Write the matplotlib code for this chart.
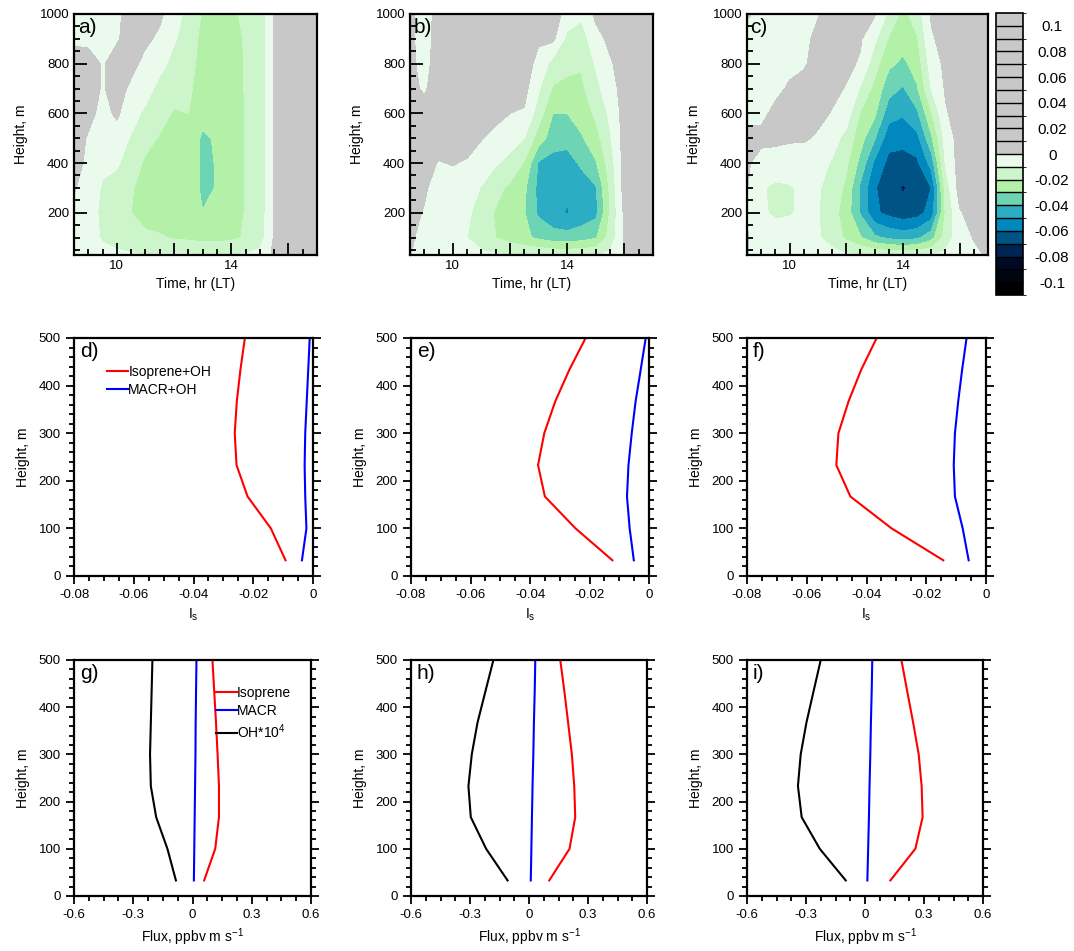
import numpy as np
import matplotlib
matplotlib.use('Agg')
import matplotlib.pyplot as plt
from matplotlib.colors import ListedColormap, BoundaryNorm
from matplotlib.ticker import MultipleLocator, FixedLocator, FixedFormatter

plt.rcParams['font.family'] = ['Liberation Sans', 'DejaVu Sans']
plt.rcParams['mathtext.fontset'] = 'custom'
plt.rcParams['mathtext.rm'] = 'Liberation Sans'
plt.rcParams['mathtext.it'] = 'Liberation Sans:italic'

# ---- contour panels a-c : values in units of 0.01, rows from 1000 m down ----
time_hr = [8.5, 9.0, 9.5, 10.0, 10.5, 11.0, 11.5, 12.0, 12.5, 13.0, 13.5, 14.0, 14.5, 15.0, 15.5, 16.0, 16.5, 17.0]
height_2d = [1000, 900, 800, 700, 600, 500, 400, 300, 200, 100, 30]

is_a = [
    [-0.5, -0.5, -0.4, -0.2, 0.4, 0.4, 0.2, -0.6, -1.3, -2.1, -2.1, -2.1, -1.9, -1.6, 0.05, 0.5, 0.5, 0.5],
    [-0.2, -0.3, -0.3, -0.1, 0.4, 0.2, -0.2, -0.9, -1.4, -2.3, -2.3, -2.2, -1.95, -1.6, 0.05, 0.5, 0.5, 0.5],
    [0.5, 0.5, -0.1, 0.4, 0.3, -0.3, -0.7, -1.3, -1.6, -2.4, -2.4, -2.3, -1.95, -1.6, 0.05, 0.5, 0.5, 0.5],
    [0.5, 0.5, -0.1, 0.4, -0.2, -0.6, -1.3, -1.6, -1.8, -2.5, -2.5, -2.4, -1.95, -1.6, 0.05, 0.5, 0.5, 0.5],
    [0.5, 0.3, -0.3, 0.15, -0.6, -1.2, -1.6, -2.1, -2.0, -2.7, -2.6, -2.5, -1.95, -1.6, 0.05, 0.5, 0.5, 0.5],
    [0.5, -0.1, -0.6, -0.4, -1.1, -1.6, -2.1, -2.4, -2.4, -3.15, -2.9, -2.6, -1.95, -1.6, 0.05, 0.5, 0.5, 0.5],
    [0.5, -0.3, -0.8, -0.9, -1.4, -2.2, -2.4, -2.5, -2.4, -3.2, -2.95, -2.6, -1.95, -1.6, 0.05, 0.5, 0.5, 0.5],
    [0.1, -0.5, -1.1, -1.3, -1.9, -2.4, -2.5, -2.6, -2.4, -3.2, -2.95, -2.6, -1.95, -1.6, 0.05, 0.5, 0.5, 0.5],
    [-0.3, -0.6, -1.2, -1.5, -2.0, -2.4, -2.5, -2.6, -2.4, -2.98, -2.7, -2.5, -1.95, -1.6, 0.05, 0.5, 0.5, 0.5],
    [-0.4, -0.6, -1.1, -1.4, -1.6, -1.8, -1.9, -2.1, -2.2, -2.3, -2.3, -2.2, -1.9, -1.5, 0.1, 0.5, 0.5, 0.5],
    [-0.3, -0.4, -0.7, -0.8, -0.9, -1.0, -0.9, -0.9, -0.9, -1.0, -1.0, -1.0, -0.9, -0.7, 0.2, 0.5, 0.5, 0.5],
]

is_b = [
    [0.2, -0.5, 0.4, 0.4, 0.4, 0.4, 0.4, 0.4, 0.3, 0.3, 0.4, -0.3, -0.8, 0.2, 0.3, 0.4, 0.4, 0.4],
    [0.2, -0.4, 0.4, 0.4, 0.4, 0.4, 0.4, 0.4, 0.3, 0.1, 0.2, -1.3, -1.5, -0.3, 0.2, 0.4, 0.4, 0.4],
    [0.2, -0.3, 0.4, 0.4, 0.4, 0.4, 0.4, 0.4, 0.3, -0.2, -1.4, -1.8, -1.9, -0.9, -0.1, 0.4, 0.4, 0.4],
    [0.2, -0.1, 0.4, 0.4, 0.4, 0.4, 0.4, 0.4, 0.3, -0.9, -2.1, -2.2, -2.2, -1.3, -0.4, 0.4, 0.4, 0.4],
    [0.2, 0.3, 0.4, 0.4, 0.4, 0.4, 0.4, 0.0, -0.1, -1.5, -3.0, -3.0, -2.6, -1.8, -0.8, 0.4, 0.4, 0.4],
    [0.2, 0.3, 0.4, 0.4, 0.4, 0.05, -0.4, -0.6, -1.0, -2.5, -3.5, -3.6, -3.1, -2.4, -1.1, 0.4, 0.4, 0.4],
    [0.2, 0.3, -0.05, 0.05, -0.1, -0.5, -0.9, -1.3, -2.1, -4.1, -4.4, -4.5, -3.8, -3.1, -1.5, 0.4, 0.4, 0.4],
    [0.2, 0.1, -0.3, -0.4, -0.6, -1.05, -1.7, -2.2, -2.8, -4.3, -4.8, -4.9, -4.6, -4.1, -1.8, 0.4, 0.4, 0.4],
    [0.2, -0.05, -0.5, -0.6, -0.8, -1.5, -2.1, -2.6, -2.95, -4.2, -4.8, -5.05, -4.7, -4.3, -1.9, 0.2, 0.4, 0.4],
    [0.2, -0.4, -0.6, -0.7, -1.0, -1.5, -2.0, -2.4, -2.8, -3.2, -3.5, -3.6, -3.4, -3.1, -1.6, 0.1, 0.4, 0.4],
    [0.05, -0.5, -0.5, -0.5, -0.6, -0.8, -0.9, -1.0, -1.0, -1.1, -1.2, -1.2, -1.2, -1.1, -0.8, 0.05, 0.4, 0.4],
]

is_c = [
    [0.1, -0.2, -0.5, -0.5, -0.3, -0.05, 0.3, 0.3, 0.3, 0.1, -1.2, -2.3, -1.5, 0.1, 0.4, 0.4, 0.4, 0.4],
    [-0.3, -0.5, -0.5, -0.4, -0.2, 0.2, 0.3, 0.3, 0.1, -0.8, -2.1, -2.6, -2.1, -0.1, 0.3, 0.4, 0.4, 0.4],
    [-0.4, -0.5, -0.4, -0.2, -0.1, 0.3, 0.3, 0.2, -0.1, -1.6, -2.8, -3.2, -2.6, -0.5, 0.2, 0.4, 0.4, 0.4],
    [-0.3, -0.4, -0.2, 0.1, 0.3, 0.3, 0.2, -0.05, -1.1, -2.3, -3.6, -4.1, -3.1, -0.95, 0.1, 0.4, 0.4, 0.4],
    [-0.1, -0.2, 0.2, 0.3, 0.3, 0.2, -0.05, -0.5, -2.1, -2.8, -4.6, -4.9, -4.2, -2.1, -0.1, 0.4, 0.4, 0.4],
    [0.1, 0.2, 0.2, 0.1, 0.1, -0.1, -0.6, -1.3, -2.6, -3.9, -5.6, -5.6, -5.3, -3.2, -0.6, 0.4, 0.4, 0.4],
    [0.1, -0.3, -0.4, -0.4, -0.5, -0.6, -1.1, -1.8, -3.3, -5.2, -6.3, -6.5, -6.2, -4.6, -0.9, 0.4, 0.4, 0.4],
    [0.05, -0.9, -1.2, -1.1, -0.8, -0.9, -1.4, -2.2, -4.2, -5.9, -6.6, -7.1, -6.6, -6.0, -1.6, 0.4, 0.4, 0.4],
    [0.05, -0.9, -1.1, -1.05, -0.9, -0.95, -1.6, -2.5, -4.1, -5.8, -6.3, -6.6, -6.4, -5.6, -1.9, -0.1, 0.4, 0.4],
    [0.05, -0.6, -0.7, -0.7, -0.7, -0.9, -1.4, -2.2, -2.9, -3.8, -4.2, -4.4, -4.2, -3.4, -1.6, -0.4, 0.05, 0.4],
    [0.05, -0.4, -0.5, -0.5, -0.5, -0.5, -0.7, -0.9, -1.0, -1.1, -1.2, -1.3, -1.2, -1.0, -0.8, -0.3, -0.2, 0.1],
]

# ---- profile panels ----
height_prof = [33, 100, 167, 233, 300, 367, 433, 500]

d_iso = [-0.0092, -0.0141, -0.0219, -0.0256, -0.0262, -0.0255, -0.0243, -0.0228]
d_macr = [-0.0037, -0.0022, -0.0026, -0.0028, -0.0026, -0.0021, -0.0016, -0.0011]
e_iso = [-0.0123, -0.0247, -0.0350, -0.0373, -0.0352, -0.0315, -0.0268, -0.0213]
e_macr = [-0.0051, -0.0065, -0.0074, -0.0069, -0.0058, -0.0045, -0.0028, -0.0011]
f_iso = [-0.0143, -0.0316, -0.0454, -0.0501, -0.0494, -0.0460, -0.0418, -0.0366]
f_macr = [-0.0058, -0.0078, -0.0104, -0.0108, -0.0104, -0.0093, -0.0080, -0.0065]

g_iso = [0.059, 0.115, 0.134, 0.134, 0.127, 0.119, 0.110, 0.101]
g_macr = [0.007, 0.009, 0.011, 0.013, 0.015, 0.016, 0.018, 0.020]
g_oh = [-0.084, -0.127, -0.184, -0.211, -0.215, -0.211, -0.207, -0.203]
h_iso = [0.103, 0.206, 0.235, 0.230, 0.218, 0.199, 0.180, 0.159]
h_macr = [0.009, 0.012, 0.015, 0.018, 0.022, 0.025, 0.029, 0.032]
h_oh = [-0.109, -0.218, -0.296, -0.308, -0.291, -0.262, -0.222, -0.181]
i_iso = [0.129, 0.256, 0.293, 0.288, 0.273, 0.245, 0.215, 0.185]
i_macr = [0.012, 0.016, 0.020, 0.023, 0.027, 0.030, 0.034, 0.037]
i_oh = [-0.098, -0.230, -0.322, -0.341, -0.327, -0.298, -0.262, -0.225]

cbar_ticks = [-0.1, -0.08, -0.06, -0.04, -0.02, 0, 0.02, 0.04, 0.06, 0.08, 0.1]
cbar_labels = ['-0.1', '-0.08', '-0.06', '-0.04', '-0.02', '0', '0.02', '0.04', '0.06', '0.08', '0.1']

# colours: 11 negative boxes (darkest first) then 11 grey boxes
neg_colors = ['#000000', '#00050f', '#000a24', '#002352', '#005485', '#0088bf',
              '#2cadc4', '#6dd4b4', '#b3f0a8', '#cdf5cb', '#eafaec']
cmap = ListedColormap(neg_colors + ['#c8c8c8'] * 11)
levels = np.linspace(-0.11, 0.11, 23)
norm = BoundaryNorm(levels, cmap.N)

W, H = 1074, 951
fig = plt.figure(figsize=(W / 100, H / 100), dpi=100)


def box(l, t, r, b):
    return [l / W, 1 - b / H, (r - l) / W, (b - t) / H]


def style_spines(ax):
    for s in ax.spines.values():
        s.set_linewidth(1.6)


# top row: contour plots
top_boxes = [(74, 14, 317, 255), (410, 14, 653, 255), (747, 14, 988, 255)]
T, Z = np.meshgrid(time_hr, height_2d)
cf = None
for k, (vals, tag) in enumerate([(is_a, 'a)'), (is_b, 'b)'), (is_c, 'c)')]):
    ax = fig.add_axes(box(*top_boxes[k]))
    V = np.array(vals) * 0.01
    cf = ax.contourf(T, Z, V, levels=levels, cmap=cmap, norm=norm)
    ax.set_xlim(8.5, 17)
    ax.set_ylim(30, 1000)
    ax.xaxis.set_major_locator(FixedLocator([10, 12, 14, 16]))
    ax.xaxis.set_major_formatter(FixedFormatter(['10', '', '14', '']))
    ax.xaxis.set_minor_locator(MultipleLocator(0.5))
    ax.set_yticks([200, 400, 600, 800, 1000])
    ax.yaxis.set_minor_locator(MultipleLocator(50))
    ax.tick_params(which='both', direction='in', top=False, right=False, labelsize=9.5, width=1.3)
    ax.tick_params(which='major', length=9)
    ax.tick_params(which='minor', length=4.5)
    ax.set_xlabel('Time, hr (LT)', fontsize=10, labelpad=4)
    ax.set_ylabel('Height, m', fontsize=10, labelpad=8)
    ax.text(0.015, 0.985, tag, transform=ax.transAxes, va='top', ha='left', fontsize=15)
    style_spines(ax)

cax = fig.add_axes(box(996, 13, 1023, 295))
cb = fig.colorbar(cf, cax=cax, ticks=cbar_ticks, drawedges=True)
cb.ax.set_yticklabels(cbar_labels)
cb.ax.tick_params(length=0, labelsize=11, pad=21)
for lab in cb.ax.get_yticklabels():
    lab.set_horizontalalignment('center')
cb.outline.set_linewidth(1.2)
cb.dividers.set_linewidth(1.0)
cb.dividers.set_color('black')


def profile_axes(rect, tag):
    ax = fig.add_axes(box(*rect))
    ax.set_ylim(0, 500)
    ax.set_yticks([0, 100, 200, 300, 400, 500])
    ax.yaxis.set_minor_locator(MultipleLocator(20))
    ax.tick_params(which='both', direction='out', top=False, right=True, labelright=False,
                   labelsize=9.5, width=1.3)
    ax.tick_params(which='major', length=6)
    ax.tick_params(which='minor', length=3.5)
    ax.set_ylabel('Height, m', fontsize=10, labelpad=6)
    ax.text(0.025, 0.985, tag, transform=ax.transAxes, va='top', ha='left', fontsize=15)
    style_spines(ax)
    return ax


# middle row: I_s profiles
mid = [((74, 338, 313, 576), 'd)', d_iso, d_macr),
       ((411, 338, 649, 576), 'e)', e_iso, e_macr),
       ((747, 338, 986, 576), 'f)', f_iso, f_macr)]
for rect, tag, iso, macr in mid:
    ax = profile_axes(rect, tag)
    ax.plot(iso, height_prof, color='red', lw=1.5, label='Isoprene+OH')
    ax.plot(macr, height_prof, color='blue', lw=1.5, label='MACR+OH')
    ax.set_xlim(-0.08, 0)
    ax.set_xticks([-0.08, -0.06, -0.04, -0.02, 0])
    ax.set_xticklabels(['-0.08', '-0.06', '-0.04', '-0.02', '0'])
    ax.xaxis.set_minor_locator(MultipleLocator(0.005))
    ax.set_xlabel('I$_\\mathrm{s}$', fontsize=10, labelpad=4)
    if tag == 'd)':
        ax.legend(loc='upper left', bbox_to_anchor=(0.14, 0.887), frameon=False, fontsize=10,
                  handlelength=1.5, handletextpad=0.0, labelspacing=0.3, borderaxespad=0, borderpad=0)

# bottom row: flux profiles
bot = [((74, 660, 311, 896), 'g)', g_iso, g_macr, g_oh),
       ((411, 660, 647, 896), 'h)', h_iso, h_macr, h_oh),
       ((747, 660, 983, 896), 'i)', i_iso, i_macr, i_oh)]
for rect, tag, iso, macr, oh in bot:
    ax = profile_axes(rect, tag)
    ax.plot(iso, height_prof, color='red', lw=1.5, label='Isoprene')
    ax.plot(macr, height_prof, color='blue', lw=1.5, label='MACR')
    ax.plot(oh, height_prof, color='black', lw=1.5, label='OH*10$^\\mathrm{4}$')
    ax.set_xlim(-0.6, 0.6)
    ax.set_xticks([-0.6, -0.3, 0, 0.3, 0.6])
    ax.set_xticklabels(['-0.6', '-0.3', '0', '0.3', '0.6'])
    ax.xaxis.set_minor_locator(MultipleLocator(0.075))
    ax.set_xlabel('Flux, ppbv m s$^\\mathrm{-1}$', fontsize=10, labelpad=4)
    if tag == 'g)':
        ax.legend(loc='upper left', bbox_to_anchor=(0.60, 0.89), frameon=False, fontsize=10,
                  handlelength=1.5, handletextpad=0.0, labelspacing=0.3, borderaxespad=0, borderpad=0)

fig.savefig('out.png', dpi=100)
